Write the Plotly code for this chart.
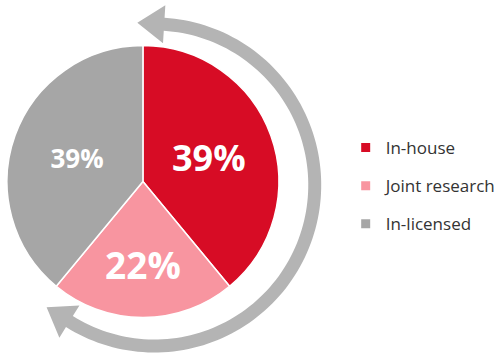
import numpy as np
import plotly.graph_objects as go

# ---- data ----
categories = ["In-house", "Joint research", "In-licensed"]
shares = [39, 22, 39]
colors = ["#D70C25", "#F895A0", "#A6A6A6"]
label_sizes = [36, 37, 26]

W, H = 503, 358
FONT = "Open Sans"


def px(x, y):
    return x / W, 1 - y / H


fig = go.Figure()
fig.add_trace(go.Pie(
    labels=categories, values=shares, sort=False, direction="clockwise", rotation=0,
    marker=dict(colors=colors, line=dict(color="white", width=1.5)),
    texttemplate="%{value}%", textposition="inside", insidetextorientation="horizontal",
    textfont=dict(color="white", size=label_sizes, family=FONT, weight="bold"),
    domain=dict(x=[7 / W, 280 / W], y=[1 - 318 / H, 1 - 45 / H]),
    showlegend=False, hoverinfo="label+percent",
))

for cat, col in zip(categories, colors):
    fig.add_trace(go.Scatter(
        x=[None], y=[None], mode="markers", name=cat, legendgroup=cat,
        marker=dict(symbol="square", size=9, color=col),
    ))

# ---- decorative double-headed circular arrow ----
cx, cy, r, w = 155, 185, 161, 13
t1, t2 = np.radians(3.5), np.radians(212)
hl, hw = 27, 38


def pt(t, rad):
    return cx + rad * np.sin(t), cy - rad * np.cos(t)


ts = np.linspace(t1, t2, 120)
outer = [pt(t, r + w / 2) for t in ts]
inner = [pt(t, r - w / 2) for t in ts[::-1]]


def head(t, sign):
    bx, by = pt(t, r)
    tx, ty = sign * np.cos(t), sign * np.sin(t)  # tangent direction
    nx, ny = np.sin(t), -np.cos(t)  # outward normal
    p1 = (bx + nx * hw / 2, by + ny * hw / 2)
    tip = (bx + tx * hl, by + ty * hl)
    p2 = (bx - nx * hw / 2, by - ny * hw / 2)
    return p1, tip, p2


h_end = head(t2, 1)
h_start = head(t1, -1)

pts = outer + [h_end[0], h_end[1], h_end[2]] + inner + [h_start[2], h_start[1], h_start[0]]
path = "M " + " L ".join(f"{px(x, y)[0]:.5f},{px(x, y)[1]:.5f}" for x, y in pts) + " Z"
fig.add_shape(type="path", path=path, xref="paper", yref="paper",
              fillcolor="#B4B4B4", line=dict(width=0), layer="below")

fig.update_layout(
    width=W, height=H, margin=dict(l=0, r=0, t=0, b=0),
    paper_bgcolor="white", plot_bgcolor="white",
    xaxis=dict(visible=False), yaxis=dict(visible=False),
    font=dict(family=FONT, color="#333333"),
    legend=dict(x=0.69, y=1 - 186 / H, yanchor="middle", xanchor="left",
                font=dict(size=17, family=FONT, color="#333333"),
                tracegroupgap=13, bgcolor="rgba(0,0,0,0)"),
)

fig.write_html("out.html")
